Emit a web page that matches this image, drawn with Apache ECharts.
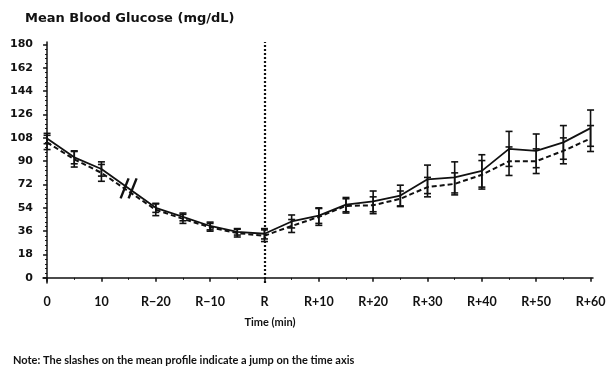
<!DOCTYPE html>
<html>
<head>
<meta charset="utf-8">
<script src="https://cdn.jsdelivr.net/npm/echarts@6/dist/echarts.min.js"></script>
<style>
html,body{margin:0;padding:0;background:#fff;}
#chart{width:616px;height:368px;}
</style>
</head>
<body>
<div id="chart"></div>
<script>
// ---- data (x = position index on the broken time axis, 1 step = 5 min) ----
var positions   = [0, 1, 2, 4, 5, 6, 7, 8, 9, 10, 11, 12, 13, 14, 15, 16, 17, 18, 19, 20];
var solidMean   = [107.5, 93, 84, 54, 47, 40, 35.5, 34, 43.5, 48, 56.5, 59, 63.5, 76, 77.5, 82.5, 99.5, 98, 104.5, 115.5];
var solidErr    = [4, 5, 5.5, 3.5, 3, 3, 2.5, 4, 5, 6, 5.5, 8, 8, 11, 12, 12.5, 13.5, 13, 13, 14];
var dashedMean  = [104.5, 91.5, 81, 52.5, 45.5, 39, 34.5, 32.5, 40, 47, 55.5, 56, 61, 70, 72.5, 79.5, 90, 90, 98, 107.5];
var dashedErr   = [5.5, 6, 6.5, 4.5, 3.5, 3, 3, 4.5, 5, 6.5, 5.5, 6.5, 6, 7.5, 8.5, 11, 11, 9.5, 10, 10];
var xTickPos    = [0, 2, 4, 6, 8, 10, 12, 14, 16, 18, 20];
var xTickLabels = ['0', '10', 'R\u221220', 'R\u221210', 'R', 'R+10', 'R+20', 'R+30', 'R+40', 'R+50', 'R+60'];
var xMinorPos   = [1, 3, 5, 7, 9, 11, 13, 15, 17, 19];
var yTicks      = [0, 18, 36, 54, 72, 90, 108, 126, 144, 162, 180];
var breakPoint  = [3, 69];
var rPosition   = 8;

var yMinor = [];
for (var i = 0; i < yTicks.length - 1; i++) {
  for (var k = 1; k < 5; k++) yMinor.push(yTicks[i] + (yTicks[i + 1] - yTicks[i]) * k / 5);
}

function pairs(xs, ys) { return xs.map(function (x, i) { return [x, ys[i]]; }); }
function triples(xs, ys, es) { return xs.map(function (x, i) { return [x, ys[i], es[i]]; }); }

function errRender(params, api) {
  var x = api.value(0), m = api.value(1), e = api.value(2);
  var top = api.coord([x, m + e]);
  var bot = api.coord([x, m - e]);
  var st = { stroke: '#111', lineWidth: 1.6 };
  var w = 3.5;
  return {
    type: 'group',
    children: [
      { type: 'line', shape: { x1: top[0], y1: top[1], x2: bot[0], y2: bot[1] }, style: st },
      { type: 'line', shape: { x1: top[0] - w, y1: top[1], x2: top[0] + w, y2: top[1] }, style: st },
      { type: 'line', shape: { x1: bot[0] - w, y1: bot[1], x2: bot[0] + w, y2: bot[1] }, style: st }
    ]
  };
}

function slashRender(params, api) {
  var c = api.coord([api.value(0), api.value(1)]);
  var st = { stroke: '#111', lineWidth: 2.4 };
  var kids = [];
  [-4, 4].forEach(function (dx) {
    kids.push({ type: 'line', shape: { x1: c[0] + dx - 4, y1: c[1] + 10, x2: c[0] + dx + 4, y2: c[1] - 10 }, style: st });
  });
  return { type: 'group', children: kids };
}

var FONT_X = 'Lato';
var chart = echarts.init(document.getElementById('chart'), null, { renderer: 'canvas' });
chart.setOption({
  animation: false,
  backgroundColor: '#fff',
  grid: { left: 43, right: 23, top: 42, bottom: 85, containLabel: false },
  xAxis: [{
    type: 'value', min: -0.15, max: 20.09,
    axisLine: { show: true, lineStyle: { color: '#111', width: 1.5 } },
    axisTick: { show: true, length: 4, lineStyle: { color: '#111', width: 1.5 }, customValues: xTickPos },
    axisLabel: {
      show: true, margin: 12, color: '#111', fontFamily: FONT_X, fontWeight: 'bold', fontSize: 12.5,
      customValues: xTickPos,
      formatter: function (v) { var i = xTickPos.indexOf(Math.round(v)); return i >= 0 ? xTickLabels[i] : ''; }
    },
    splitLine: { show: false }
  }, {
    type: 'value', min: -0.15, max: 20.09, position: 'bottom',
    axisLine: { show: false },
    axisTick: { show: true, length: 2, lineStyle: { color: '#111', width: 1 }, customValues: xMinorPos },
    axisLabel: { show: false },
    splitLine: { show: false }
  }],
  yAxis: [{
    type: 'value', min: -4, max: 182,
    axisLine: { show: true, lineStyle: { color: '#111', width: 1.5 } },
    axisTick: { show: true, length: 4, lineStyle: { color: '#111', width: 1.5 }, customValues: yTicks },
    axisLabel: {
      show: true, margin: 10, color: '#111', fontFamily: 'DejaVu Sans', fontWeight: 'bold', fontSize: 11,
      customValues: yTicks
    },
    splitLine: { show: false }
  }, {
    type: 'value', min: -4, max: 182, position: 'left',
    axisLine: { show: false },
    axisTick: { show: true, length: 2, lineStyle: { color: '#111', width: 1 }, customValues: yMinor },
    axisLabel: { show: false },
    splitLine: { show: false }
  }],
  series: [
    {
      type: 'line', name: 'solid', data: pairs(positions, solidMean),
      showSymbol: false, lineStyle: { color: '#111', width: 1.8, type: 'solid' }, z: 3,
      markLine: {
        silent: true, symbol: ['none', 'none'], label: { show: false },
        lineStyle: { color: '#111', width: 2.2, type: [2, 2] },
        data: [{ xAxis: rPosition }]
      }
    },
    {
      type: 'line', name: 'dashed', data: pairs(positions, dashedMean),
      showSymbol: false, lineStyle: { color: '#111', width: 2, type: [5, 3] }, z: 3
    },
    { type: 'custom', name: 'solidErr', renderItem: errRender, data: triples(positions, solidMean, solidErr), z: 4 },
    { type: 'custom', name: 'dashedErr', renderItem: errRender, data: triples(positions, dashedMean, dashedErr), z: 4 },
    { type: 'custom', name: 'break', renderItem: slashRender, data: [breakPoint], z: 5 }
  ],
  graphic: [
    { type: 'text', left: 25, top: 12, style: { text: 'Mean Blood Glucose (mg/dL)', fill: '#111', font: 'bold 13px "DejaVu Sans", sans-serif' } },
    { type: 'text', x: 270, y: 322, style: { text: 'Time (min)', fill: '#111', font: 'bold 11px Lato, sans-serif', align: 'center', verticalAlign: 'middle' } },
    { type: 'text', x: 13, y: 360, style: { text: 'Note: The slashes on the mean profile indicate a jump on the time axis', fill: '#111', font: 'bold 11px Lato, sans-serif', align: 'left', verticalAlign: 'middle' } }
  ]
});
</script>
</body>
</html>
